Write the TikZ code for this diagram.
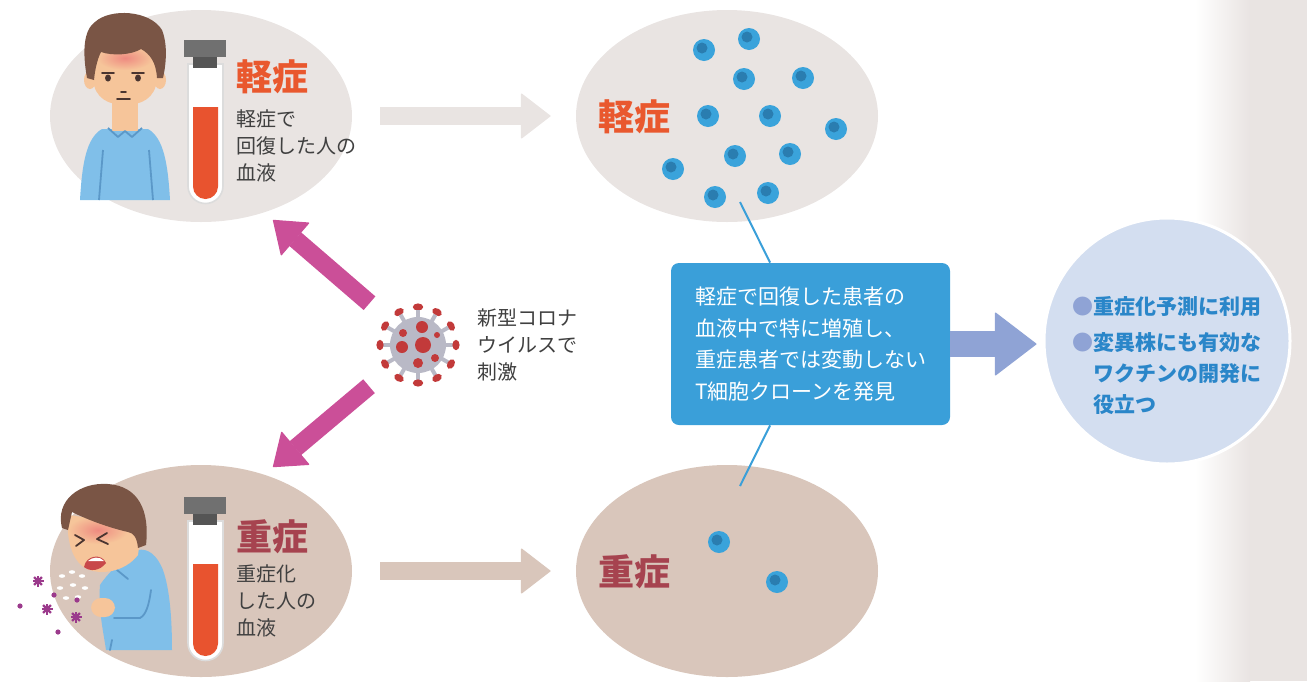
\documentclass[tikz,border=0pt]{standalone}
\usepackage{fontspec}
\setmainfont{Noto Sans CJK JP}
\usetikzlibrary{arrows.meta, shapes.geometric, positioning}

\definecolor{mildbg}{HTML}{E9E4E2}
\definecolor{severebg}{HTML}{D9C6BB}
\definecolor{mildtitle}{HTML}{E9582E}
\definecolor{severetitle}{HTML}{A6434F}
\definecolor{bodytext}{HTML}{404040}
\definecolor{cellout}{HTML}{3AA3DB}
\definecolor{cellin}{HTML}{2A7DB0}
\definecolor{boxblue}{HTML}{3A9FD9}
\definecolor{lavender}{HTML}{8FA3D5}
\definecolor{outlookbg}{HTML}{D3DEF0}
\definecolor{outlooktext}{HTML}{2A86C9}
\definecolor{stimpink}{HTML}{CB4F98}
\definecolor{virusgray}{HTML}{B9B9C6}
\definecolor{virusred}{HTML}{C23A3A}
\definecolor{shirt}{HTML}{80BFE9}
\definecolor{shirtline}{HTML}{5B98C8}
\definecolor{skin}{HTML}{F6C59A}
\definecolor{hair}{HTML}{7A5545}
\definecolor{flush}{HTML}{EE8A80}
\definecolor{eye}{HTML}{4A3530}
\definecolor{mouth}{HTML}{C8484A}
\definecolor{germ}{HTML}{9B3A8C}
\definecolor{blood}{HTML}{E8532F}
\definecolor{capgray}{HTML}{707070}
\definecolor{capdark}{HTML}{555555}
\definecolor{tubeedge}{HTML}{DCDCDC}

% blood sample tube, #1 = top left corner of the cap
\newcommand{\bloodtube}[1]{%
  \begin{scope}[shift={#1}]
    \filldraw[fill=white, draw=tubeedge, line width=0.8pt]
      (4,24) -- (4,146) arc[start angle=180, end angle=0, radius=17.5] -- (39,24) -- cycle;
    \fill[blood] (9,67) -- (9,146.5) arc[start angle=180, end angle=0, radius=12.5] -- (34,67) -- cycle;
    \fill[capgray] (0,0) rectangle (42,17);
    \fill[capdark] (9,17) rectangle (33,28);
  \end{scope}}
% a T cell
\newcommand{\tcell}[1]{%
  \fill[cellout] #1 circle[radius=11];
  \fill[cellin] #1 ++(-2,-2) circle[radius=5.5];}

\begin{document}
\begin{tikzpicture}[
    x=0.5pt, y=-0.5pt,
    every node/.style={inner sep=0pt},
    blob/.style  ={ellipse, minimum width=151pt, minimum height=106pt},
    title/.style ={anchor=west, font=\fontsize{18}{20}\selectfont\bfseries},
    note/.style  ={anchor=west, align=left, text=bodytext, font=\fontsize{10}{13.5}\selectfont},
    flat/.style  ={line width=9pt, -{Triangle[length=15pt, width=23pt, line width=0.6pt, round]}},
    stim/.style  ={line width=9pt, stimpink, -{Triangle[length=15pt, width=22pt, line width=0.6pt, round]}},
    pin/.style   ={boxblue, line width=1pt},
    clonebox/.style={fill=boxblue, text=white, rounded corners=4pt, align=left,
                  minimum width=139.5pt, minimum height=81pt,
                  font=\fontsize{10.5}{15.7}\selectfont},
    feature/.style={draw=eye, line width=0.9pt, line cap=round, line join=round},
]
\useasboundingbox (0,0) rectangle (1307,681);
% side band
\shade[left color=white, right color=mildbg] (1195,0) rectangle (1250,681);
\fill[mildbg] (1250,0) rectangle (1307,681);

\node[blob, fill=mildbg]   (mild)        at (201,116) {};
\node[blob, fill=severebg] (severe)      at (201,571) {};
\node[blob, fill=mildbg]   (mildCells)   at (727,116) {};
\node[blob, fill=severebg] (severeCells) at (727,571) {};

\draw[flat, color=mildbg, shorten <=14pt, shorten >=12.5pt] (mild) -- (mildCells);
\draw[flat, color=severebg, shorten <=14pt, shorten >=12.5pt] (severe) -- (severeCells);

% healthy patient
\fill[shirt] (80,200) .. controls (82,165) and (86,138) .. (102,129) -- (148,129)
  .. controls (164,138) and (168,165) .. (170,200) -- cycle;
\fill[skin] (112,96) rectangle (138,131);
\draw[shirtline, line width=0.9pt, line join=round] (108,128) -- (118,137) -- (125,131) -- (132,137) -- (142,128);
\draw[shirtline, line width=0.9pt] (103,150) -- (99,200) (149,150) -- (153,200);
\fill[skin] (90,80) ellipse[x radius=6, y radius=9];
\fill[skin] (160,80) ellipse[x radius=6, y radius=9];
\fill[skin] (93,45) -- (93,80) .. controls (95,98) and (108,105) .. (125,105)
  .. controls (142,105) and (155,98) .. (157,80) -- (157,45) -- cycle;
\shade[inner color=flush, outer color=skin] (125,58) ellipse[x radius=28, y radius=12];
\fill[hair] (87,78) .. controls (82,50) and (84,30) .. (95,22) .. controls (110,8) and (150,10) .. (162,30)
  .. controls (168,45) and (166,65) .. (163,78) -- (157,78) .. controls (156,62) and (150,54) .. (141,49)
  .. controls (132,55) and (112,56) .. (101,52) .. controls (97,60) and (95,70) .. (94,80) -- cycle;
\fill[eye] (108,78) ellipse[x radius=3, y radius=3.5];
\fill[eye] (138,78) ellipse[x radius=3, y radius=3.5];
\draw[feature] (102,73) -- (114,73) (132,73) -- (144,73) (121,92) -- (126,92) (117,99) -- (130,99);
\bloodtube{(184,40)}
\node[title, text=mildtitle] (mildTitle) at (236,77) {軽症};
\node[note] (mildNote) at (236,146) {軽症で\\回復した人の\\血液};

% severe patient
\fill[shirt] (100,585) .. controls (98,610) and (104,635) .. (106,650) -- (172,650)
  .. controls (172,620) and (170,590) .. (163,570) .. controls (157,555) and (148,548) .. (138,550)
  .. controls (125,558) and (110,570) .. (100,585) -- cycle;
\draw[shirtline, line width=0.9pt, line cap=round] (117,570) -- (128,579)
  (151,590) .. controls (149,605) and (146,615) .. (140,618) -- (114,618) (112,640) -- (110,650);
\fill[skin, rounded corners=5pt] (91,598) rectangle (115,617);
\fill[skin] (141,540) ellipse[x radius=5, y radius=7];
\fill[skin] (68,515) .. controls (66,540) and (72,560) .. (85,568) .. controls (100,576) and (125,572) .. (138,555)
  -- (142,525) -- cycle;
\shade[inner color=flush, outer color=skin] (98,530) ellipse[x radius=30, y radius=14];
\fill[hair] (62,528) .. controls (55,500) and (80,482) .. (108,484) .. controls (138,486) and (150,510) .. (146,545)
  -- (138,548) .. controls (137,538) and (134,533) .. (128,532) .. controls (110,528) and (88,520) .. (72,512)
  -- (68,530) -- cycle;
\draw[feature] (75,535) -- (84,540) -- (76,546) (107,533) -- (97,539) -- (108,544);
\fill[mouth] (84,567) .. controls (86,555) and (102,553) .. (106,563) .. controls (100,571) and (90,572) .. (84,567) -- cycle;
\fill[white] (88,561) .. controls (92,557) and (100,556) .. (104,561) -- cycle;
\foreach \p in {(62,576),(72,572),(82,576),(60,588),(73,585),(85,588),(66,598),(78,597)}
  \fill[white] \p ellipse[x radius=3.2, y radius=1.8];
\foreach \p in {(38,581),(47,609),(76,617)}
  \foreach \a in {0,45,90,135}
    \draw[germ, line width=1.2pt] \p ++(\a:5.5) -- ++(\a+180:11);
\foreach \p in {(20,606),(54,595),(77,600),(58,632)}
  \fill[germ] \p circle[radius=2.6];
\bloodtube{(184,497)}
\node[title, text=severetitle] (severeTitle) at (236,537) {重症};
\node[note] (severeNote) at (236,601) {重症化\\した人の\\血液};

% cells in each sample
\foreach \p in {(704,50),(749,39),(744,79),(803,78),(708,116),(770,116),
                (836,129),(735,156),(790,154),(673,169),(715,197),(768,193)}
  {\tcell{\p}}
\foreach \p in {(719,542),(777,582)}
  {\tcell{\p}}
\node[title, text=mildtitle]   (mildCellsTitle)   at (598,117) {軽症};
\node[title, text=severetitle] (severeCellsTitle) at (598,572) {重症};

% the virus
\node[circle, minimum size=38pt] (virus) at (418,345) {};
\foreach \a in {0,30,...,330} {
  \draw[virusgray, line width=2pt] (virus.center) -- ++(\a:35);
  \fill[virusred, shift={(virus.center)}, rotate=\a] (38,0) ellipse[x radius=3.6, y radius=5.2];
}
\fill[virusgray] (virus.center) circle[radius=28];
\foreach \dx/\dy/\r in {5/0/8, 4/-18/6, -15/-12/4, -16/2/6, 19/-10/3, 17/13/4, 0/18/5}
  \fill[virusred] (virus.center) ++(\dx,\dy) circle[radius=\r];
\node[note] (virusNote) at (477,345) {新型コロナ\\ウイルスで\\刺激};
\coordinate (mildTip)   at (273,220);
\coordinate (severeTip) at (273,467);
\draw[stim, shorten <=32pt] (virus.center) -- (mildTip);
\draw[stim, shorten <=32pt] (virus.center) -- (severeTip);

% finding and outlook
\node[clonebox] (clone) at (810.5,344)
  {軽症で回復した患者の\\血液中で特に増殖し、\\重症患者では変動しない\\T細胞クローンを発見};
\coordinate (mildPin)   at (740,202);
\coordinate (severePin) at (740,486);
\draw[pin] (mildPin) -- (clone);
\draw[pin] (severePin) -- (clone);
\node[circle, fill=outlookbg, draw=white, line width=1.5pt, minimum size=123pt] (outlook) at (1167,341) {};
\draw[lavender, line width=13pt, -{Triangle[length=21pt, width=32pt, line width=0.6pt, round]}, shorten >=3pt]
  (clone.east) -- (clone.east -| outlook.west);
\node[anchor=west, align=left, text=outlooktext, font=\fontsize{10.5}{15.5}\selectfont\bfseries] (outlookText) at (1072,356)
  {{\color{lavender}●}重症化予測に利用\\[2.5pt]
   {\color{lavender}●}変異株にも有効な\\
   \phantom{●}ワクチンの開発に\\
   \phantom{●}役立つ};
\end{tikzpicture}
\end{document}
